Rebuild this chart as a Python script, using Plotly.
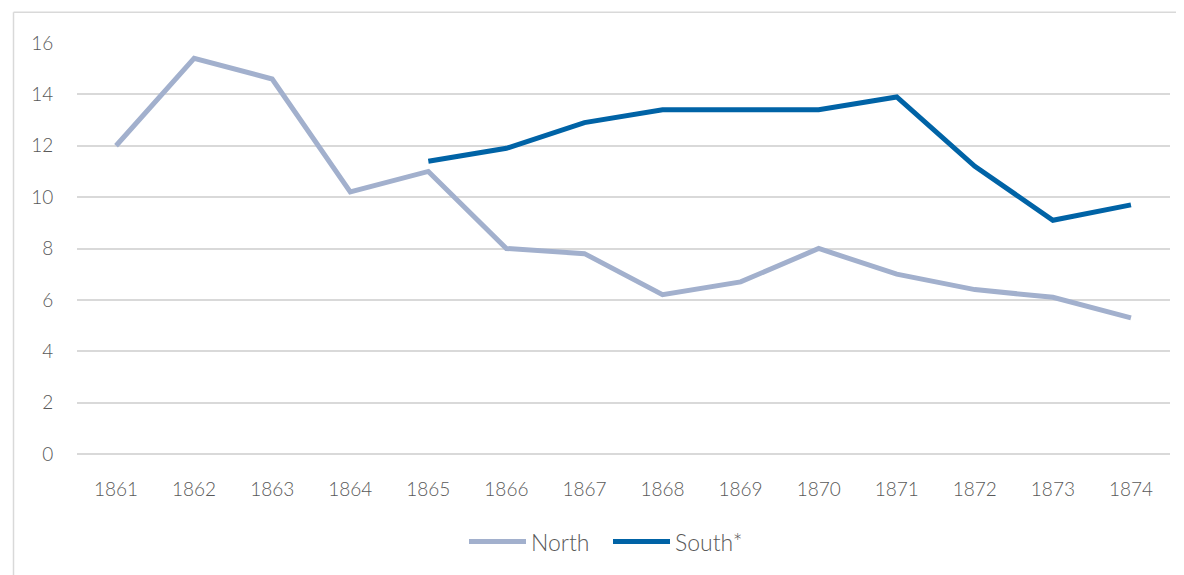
import plotly.graph_objects as go

years = ["1861", "1862", "1863", "1864", "1865", "1866", "1867",
         "1868", "1869", "1870", "1871", "1872", "1873", "1874"]
north = [12.0, 15.4, 14.6, 10.2, 11.0, 8.0, 7.8, 6.2, 6.7, 8.0, 7.0, 6.4, 6.1, 5.3]
south = [None, None, None, None, 11.4, 11.9, 12.9, 13.4, 13.4, 13.4, 13.9, 11.2, 9.1, 9.7]

OFF = 8  # page body margin
W, H = 1184 - OFF, 575 - OFF
L, R, T, B = 77 - OFF, 14, 43 - OFF, 119
pw, ph = W - L - R, H - T - B

def px(x):
    return (x - OFF - L) / pw

def py(y):
    return (H - B - (y - OFF)) / ph

FONT = "Lato"
GRAY = "#595959"

fig = go.Figure()
fig.add_trace(go.Scatter(x=years, y=north, name="North", mode="lines",
                         line=dict(color="#a2b0cd", width=5)))
fig.add_trace(go.Scatter(x=years, y=south, name="South*", mode="lines",
                         line=dict(color="#0063a6", width=5)))

fig.update_layout(
    width=W, height=H,
    margin=dict(l=L, r=R, t=T, b=B),
    paper_bgcolor="white", plot_bgcolor="white",
    font=dict(family=FONT, color=GRAY, size=19, weight=300),
    showlegend=True,
    legend=dict(orientation="h", x=px(608), xanchor="center", y=py(544), yanchor="middle",
                font=dict(size=23, color=GRAY, family=FONT, weight=300),
                itemwidth=57, entrywidth=72, entrywidthmode="pixels",
                traceorder="normal", bgcolor="rgba(0,0,0,0)"),
    xaxis=dict(type="category", range=[-0.5, 13.5], showgrid=False, zeroline=False,
               showline=False, ticks="outside", ticklen=18, tickcolor="rgba(0,0,0,0)",
               tickfont=dict(size=19, color=GRAY, family=FONT, weight=300)),
    yaxis=dict(range=[0, 16], dtick=2, showgrid=True, gridcolor="#d9d9d9", gridwidth=1.5,
               zeroline=True, zerolinecolor="#d9d9d9", zerolinewidth=1.5,
               showline=False, ticks="outside", ticklen=19, tickcolor="rgba(0,0,0,0)",
               tickfont=dict(size=19, color=GRAY, family=FONT, weight=300)),
    shapes=[
        dict(type="line", xref="paper", yref="paper", x0=px(13.5), x1=px(13.5), y0=py(12), y1=py(600),
             line=dict(color="#d9d9d9", width=1.5)),
        dict(type="line", xref="paper", yref="paper", x0=px(13.5), x1=px(1190), y0=py(12), y1=py(12),
             line=dict(color="#d9d9d9", width=1.5)),
    ],
)

fig.write_html("out.html")
